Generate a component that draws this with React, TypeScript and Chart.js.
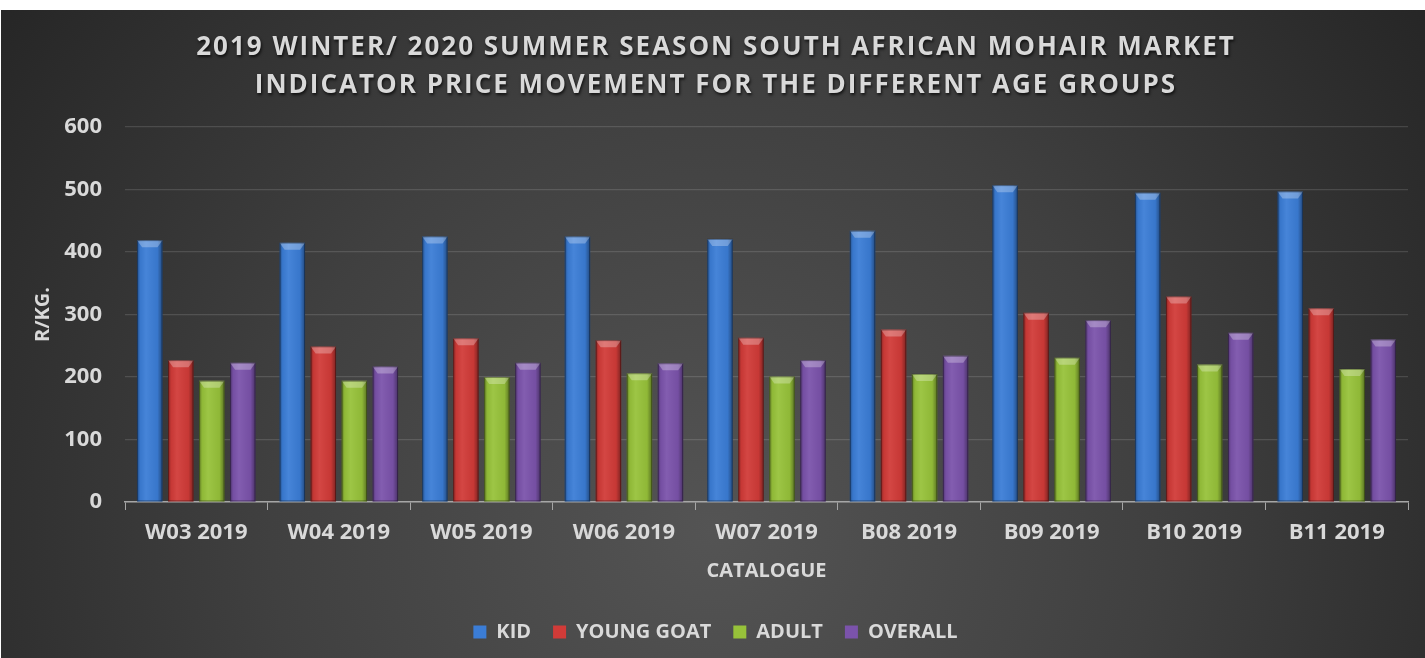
import React, { useEffect, useRef } from "react";
import { Chart, registerables } from "chart.js";

Chart.register(...registerables);

const categories = ["W03 2019", "W04 2019", "W05 2019", "W06 2019", "W07 2019", "B08 2019", "B09 2019", "B10 2019", "B11 2019"];
const kid = [419, 415, 425, 425, 421, 434, 507, 495, 497];
const youngGoat = [227, 249, 262, 259, 263, 276, 303, 329, 310];
const adult = [194, 194, 200, 206, 201, 205, 231, 220, 213];
const overall = [223, 217, 223, 222, 227, 234, 291, 271, 260];
const seriesNames = ["KID", "YOUNG GOAT", "ADULT", "OVERALL"];
const seriesColors = ["#3b7dd6", "#d13b38", "#97c23a", "#7b53ab"];
const yTicks = [0, 100, 200, 300, 400, 500, 600];
const titleLines = [
  "2019 WINTER/ 2020 SUMMER SEASON SOUTH AFRICAN MOHAIR MARKET",
  "INDICATOR PRICE MOVEMENT FOR THE DIFFERENT AGE GROUPS",
];

const FONT = "'Open Sans', 'DejaVu Sans', sans-serif";
const TEXT = "#d9d9d9";

const bgPlugin = {
  id: "bg",
  beforeDraw(chart: any) {
    const { ctx, width, height } = chart;
    ctx.save();
    const g = ctx.createRadialGradient(width * 0.5, height * 0.8, 0, width * 0.5, height * 0.8, width * 0.62);
    g.addColorStop(0, "#545454");
    g.addColorStop(0.5, "#404040");
    g.addColorStop(1, "#262626");
    ctx.fillStyle = g;
    ctx.fillRect(0, 0, width, height);
    ctx.restore();
  },
};

const titlePlugin = {
  id: "spacedTitle",
  afterDraw(chart: any) {
    const { ctx, width } = chart;
    ctx.save();
    ctx.font = `bold 26px ${FONT}`;
    ctx.textAlign = "center";
    ctx.textBaseline = "middle";
    (ctx as any).letterSpacing = "2px";
    ctx.shadowColor = "rgba(0,0,0,0.7)";
    ctx.shadowBlur = 3;
    ctx.shadowOffsetX = 1;
    ctx.shadowOffsetY = 2;
    ctx.fillStyle = TEXT;
    ctx.fillText(titleLines[0], width / 2 + 3, 38);
    ctx.fillText(titleLines[1], width / 2 + 3, 76);
    ctx.restore();
  },
};

const bevelPlugin = {
  id: "bevel",
  afterDatasetsDraw(chart: any) {
    const { ctx } = chart;
    ctx.save();
    chart.data.datasets.forEach((_: any, i: number) => {
      const meta = chart.getDatasetMeta(i);
      meta.data.forEach((bar: any) => {
        const { x, y, width, base } = bar.getProps(["x", "y", "width", "base"], true);
        const l = x - width / 2;
        const r = x + width / 2;
        const h = base - y;
        if (h <= 0) return;
        const g = ctx.createLinearGradient(l, 0, r, 0);
        g.addColorStop(0, "rgba(0,0,0,0.35)");
        g.addColorStop(0.12, "rgba(0,0,0,0.05)");
        g.addColorStop(0.35, "rgba(255,255,255,0.06)");
        g.addColorStop(0.8, "rgba(0,0,0,0.05)");
        g.addColorStop(1, "rgba(0,0,0,0.4)");
        ctx.fillStyle = g;
        ctx.fillRect(l, y, width, h);
        const bv = Math.min(7, h);
        ctx.beginPath();
        ctx.moveTo(l, y);
        ctx.lineTo(r, y);
        ctx.lineTo(r - 5, y + bv);
        ctx.lineTo(l + 5, y + bv);
        ctx.closePath();
        ctx.fillStyle = "rgba(255,255,255,0.28)";
        ctx.fill();
        ctx.strokeStyle = "rgba(0,0,0,0.35)";
        ctx.lineWidth = 1;
        ctx.strokeRect(l + 0.5, y + 0.5, width - 1, h - 1);
      });
    });
    ctx.restore();
  },
};

export default function App() {
  const ref = useRef<HTMLCanvasElement | null>(null);
  useEffect(() => {
    document.body.style.margin = "0";
    const values = [kid, youngGoat, adult, overall];
    const chart = new Chart(ref.current!, {
      type: "bar",
      data: {
        labels: categories,
        datasets: seriesNames.map((name, i) => ({
          label: name,
          data: values[i],
          backgroundColor: seriesColors[i],
          borderWidth: 0,
          categoryPercentage: 0.87,
          barPercentage: 0.82,
        })),
      },
      options: {
        animation: false,
        responsive: true,
        maintainAspectRatio: false,
        layout: { padding: { top: 117, left: 22, right: 17, bottom: 6 } },
        plugins: {
          title: { display: false },
          tooltip: { enabled: false },
          legend: {
            position: "bottom",
            labels: {
              color: TEXT,
              font: { family: FONT, size: 20, weight: "bold" },
              boxWidth: 13,
              boxHeight: 13,
              padding: 22,
            },
          },
        },
        scales: {
          x: {
            offset: true,
            grid: {
              display: true,
              drawOnChartArea: false,
              drawTicks: true,
              tickLength: 8,
              color: "#a6a6a6",
              offset: true,
            },
            border: { display: true, color: "#a6a6a6", width: 1.5 },
            ticks: { color: TEXT, font: { family: FONT, size: 22, weight: "bold" }, padding: 10 },
            title: {
              display: true,
              text: "CATALOGUE",
              color: TEXT,
              font: { family: FONT, size: 20, weight: "bold" },
              padding: { top: 8, bottom: 17 },
            },
            afterFit(scale: any) {
              scale.height = 98;
            },
          },
          y: {
            min: 0,
            max: 600,
            afterBuildTicks(scale: any) {
              scale.ticks = yTicks.map((v) => ({ value: v }));
            },
            grid: { color: "rgba(255,255,255,0.13)", drawTicks: false, lineWidth: 1.2 },
            border: { display: false },
            ticks: { color: TEXT, font: { family: FONT, size: 22, weight: "bold" }, padding: 23 },
            title: {
              display: true,
              text: "R/KG.",
              color: TEXT,
              font: { family: FONT, size: 20, weight: "bold" },
              padding: { top: 8, bottom: 8 },
            },
            afterFit(scale: any) {
              scale.width = 102;
            },
          },
        },
      } as any,
      plugins: [bgPlugin, titlePlugin, bevelPlugin],
    });
    return () => chart.destroy();
  }, []);
  return (
    <div style={{ position: "absolute", left: 1, top: 10, width: 1424, height: 648, background: "#2a2a2a" }}>
      <canvas ref={ref} />
    </div>
  );
}
